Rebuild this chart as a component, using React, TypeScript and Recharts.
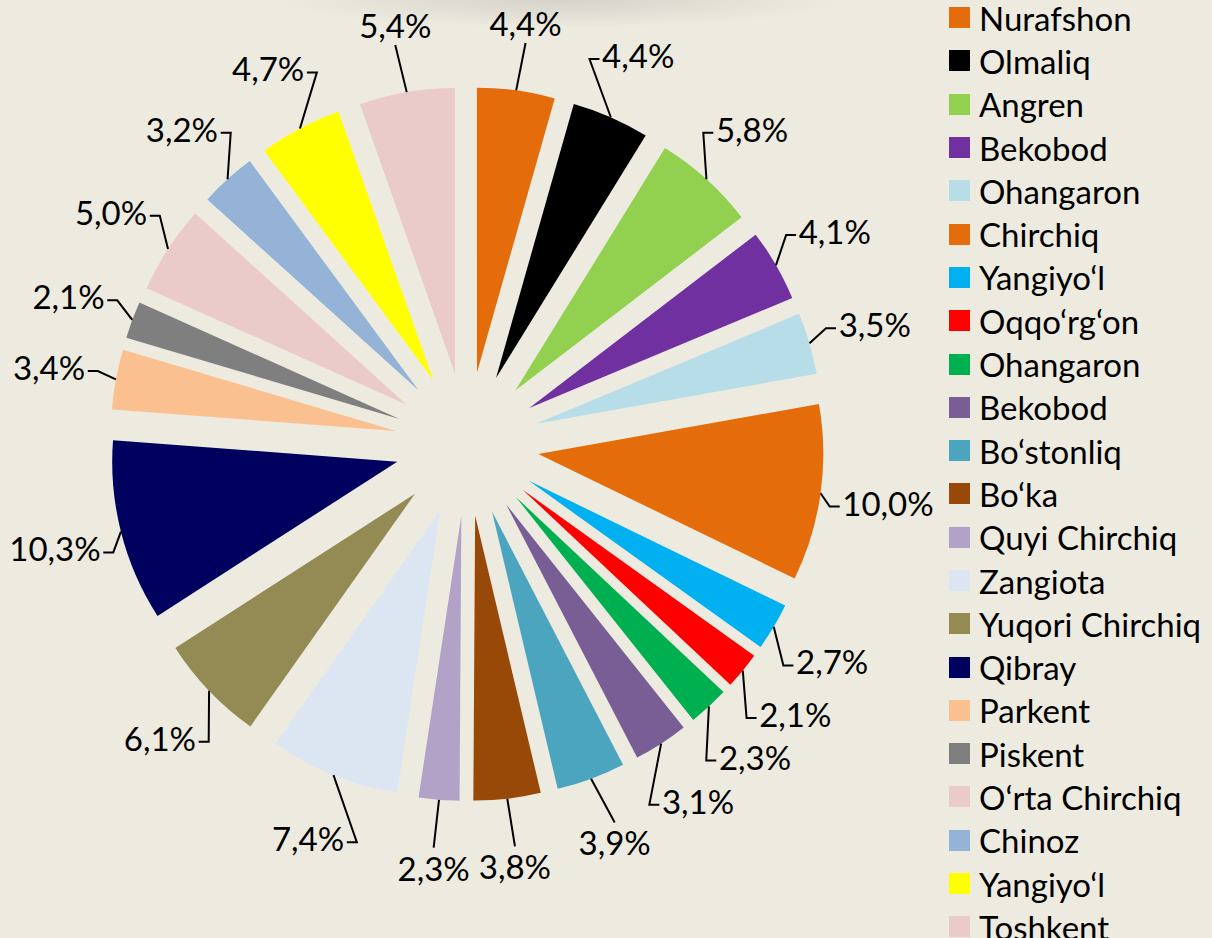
import React from "react";
import { PieChart, Pie, Cell, Sector, Legend } from "recharts";

const districts = [
  "Nurafshon",
  "Olmaliq",
  "Angren",
  "Bekobod",
  "Ohangaron",
  "Chirchiq",
  "Yangiyo‘l",
  "Oqqo‘rg‘on",
  "Ohangaron",
  "Bekobod",
  "Bo‘stonliq",
  "Bo‘ka",
  "Quyi Chirchiq",
  "Zangiota",
  "Yuqori Chirchiq",
  "Qibray",
  "Parkent",
  "Piskent",
  "O‘rta Chirchiq",
  "Chinoz",
  "Yangiyo‘l",
  "Toshkent",
];

const shares = [
  4.4, 4.4, 5.8, 4.1, 3.5, 10.0, 2.7, 2.1, 2.3, 3.1, 3.9, 3.8, 2.3, 7.4, 6.1,
  10.3, 3.4, 2.1, 5.0, 3.2, 4.7, 5.4,
];

const colors = [
  "#E46C0A",
  "#000000",
  "#92D050",
  "#7030A0",
  "#B7DEE8",
  "#E46C0A",
  "#00B0F0",
  "#FF0000",
  "#00B050",
  "#795E96",
  "#4BA5BE",
  "#984807",
  "#B2A2C7",
  "#DCE6F2",
  "#948A54",
  "#00005E",
  "#FAC090",
  "#7F7F7F",
  "#EBCACA",
  "#95B3D7",
  "#FFFF00",
  "#EBCACA",
];

const data = districts.map((name, i) => ({ name, value: shares[i] }));

const RAD = Math.PI / 180;
const EXPLODE = 72;
const FONT = "Lato, 'Open Sans', sans-serif";

const ExplodedSector = (props: any) => {
  const { cx, cy, midAngle } = props;
  const dx = EXPLODE * Math.cos(-midAngle * RAD);
  const dy = EXPLODE * Math.sin(-midAngle * RAD);
  return <Sector {...props} cx={cx + dx} cy={cy + dy} />;
};

const fmt = (v: number) => v.toFixed(1).replace(".", ",") + "%";

// rough text width for Lato at 33px
const textWidth = (s: string) =>
  s.split("").reduce((w, ch) => w + (ch === "," ? 7.5 : ch === "%" ? 26 : 19), 0);

const renderLabel = (props: any) => {
  const { cx, cy, midAngle, outerRadius, index } = props;
  const cos = Math.cos(-midAngle * RAD);
  const sin = Math.sin(-midAngle * RAD);
  const r0 = outerRadius + EXPLODE;
  const sx = cx + r0 * cos;
  const sy = cy + r0 * sin;
  const lr = r0 + 68;
  const lx = cx + lr * cos;
  const ly = cy + lr * sin;
  const text = fmt(shares[index]);
  const half = textWidth(text) / 2;

  let pts: string;
  if (Math.abs(cos) > 0.35) {
    const side = cos > 0 ? 1 : -1;
    const ex = lx - side * (half + 3);
    const bx = ex - side * 10;
    pts = `${sx},${sy} ${bx},${ly + 4} ${ex},${ly + 4}`;
  } else {
    const ey = sin < 0 ? ly + 20 : ly - 20;
    pts = `${sx},${sy} ${lx},${ey}`;
  }

  return (
    <g>
      <polyline points={pts} fill="none" stroke="#000" strokeWidth={2} />
      <text
        x={lx}
        y={ly}
        textAnchor="middle"
        dominantBaseline="central"
        fontFamily={FONT}
        fontSize={33}
        fill="#000"
      >
        {text}
      </text>
    </g>
  );
};

// legend drawn in data order (the built-in payload gets sorted by name)
const renderLegend = () => (
  <div style={{ fontFamily: FONT, fontSize: 33, color: "#000" }}>
    {districts.map((name, i) => (
      <div
        key={i}
        style={{ display: "flex", alignItems: "center", height: 43.3, whiteSpace: "nowrap" }}
      >
        <span
          style={{
            display: "inline-block",
            width: 21,
            height: 21,
            background: colors[i],
            marginRight: 9,
            flex: "none",
          }}
        />
        <span>{name}</span>
      </div>
    ))}
  </div>
);

export default function App() {
  return (
    <div
      style={{
        position: "absolute",
        left: 0,
        top: 0,
        width: 1212,
        height: 938,
        overflow: "hidden",
        background:
          "radial-gradient(ellipse 280px 28px at 560px 0px, rgba(0,0,0,0.10), rgba(0,0,0,0)), #EDEBE0",
      }}
    >
      <PieChart width={1212} height={938} margin={{ top: 0, right: 0, bottom: 0, left: 0 }}>
        <Pie
          data={data}
          dataKey="value"
          nameKey="name"
          cx={467}
          cy={444}
          outerRadius={285}
          startAngle={90}
          endAngle={-270}
          stroke="none"
          shape={ExplodedSector}
          label={renderLabel}
          labelLine={false}
          isAnimationActive={false}
        >
          {data.map((_, i) => (
            <Cell key={i} fill={colors[i]} />
          ))}
        </Pie>
        <Legend
          layout="vertical"
          align="right"
          verticalAlign="top"
          content={renderLegend}
          wrapperStyle={{ left: 949, top: -4, width: 263 }}
        />
      </PieChart>
    </div>
  );
}
